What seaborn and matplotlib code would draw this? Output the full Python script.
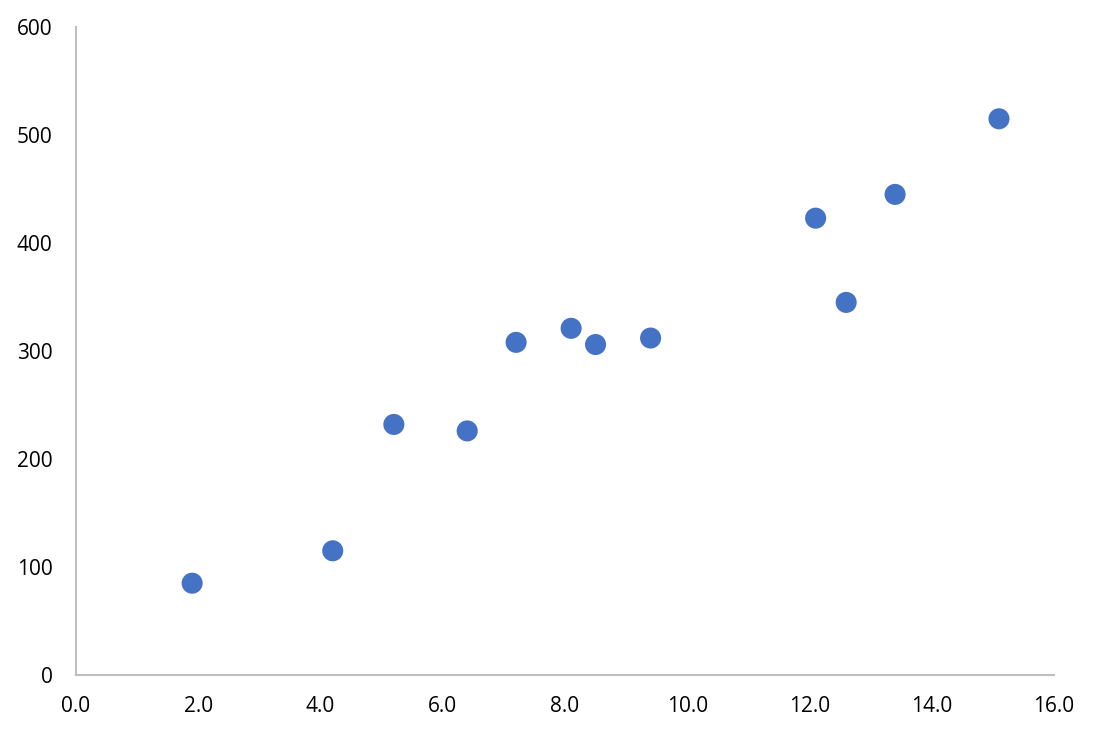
import matplotlib
matplotlib.use("Agg")
import matplotlib.pyplot as plt
import seaborn as sns
import pandas as pd

# values
x_vals = [1.9, 4.2, 5.2, 6.4, 7.2, 8.1, 8.5, 9.4, 12.1, 12.6, 13.4, 15.1]
y_vals = [85, 115, 232, 226, 308, 321, 306, 312, 423, 345, 445, 515]
x_ticks = [0, 2, 4, 6, 8, 10, 12, 14, 16]
y_ticks = [0, 100, 200, 300, 400, 500, 600]

df = pd.DataFrame({"x": x_vals, "y": y_vals})

sns.set_style("white")
plt.rcParams["font.family"] = ["Open Sans", "DejaVu Sans"]

fig = plt.figure(figsize=(10.99, 7.34), dpi=100)
ax = fig.add_axes([76 / 1099, 59 / 734, 978 / 1099, 648 / 734])

sns.scatterplot(data=df, x="x", y="y", ax=ax, color="#4472C4", s=230,
                edgecolor="none", zorder=3)

ax.set_xlim(0, 16)
ax.set_ylim(0, 600)
ax.set_xticks(x_ticks)
ax.set_xticklabels([f"{t:.1f}" for t in x_ticks])
ax.set_yticks(y_ticks)
ax.set_yticklabels([str(t) for t in y_ticks])
ax.set_xlabel("")
ax.set_ylabel("")
ax.tick_params(axis="both", length=0, labelsize=15, colors="black")
ax.tick_params(axis="x", pad=15)
ax.tick_params(axis="y", pad=17)

for side in ["top", "right"]:
    ax.spines[side].set_visible(False)
for side in ["left", "bottom"]:
    ax.spines[side].set_color("#BFBFBF")
    ax.spines[side].set_linewidth(1.5)

fig.savefig("out.png", dpi=100)
